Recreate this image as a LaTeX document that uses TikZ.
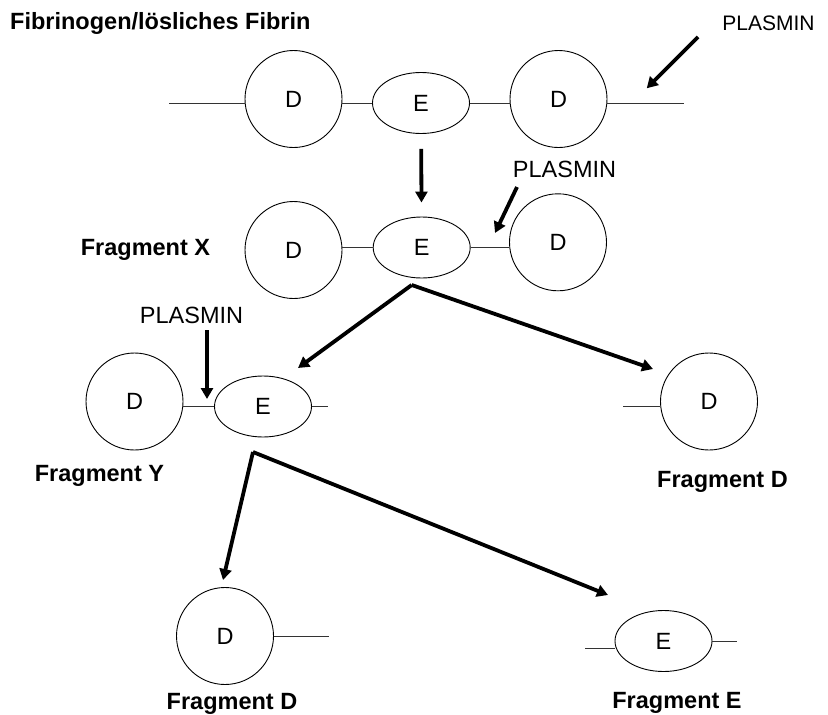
\documentclass[tikz,border=0pt]{standalone}
\usepackage{fontspec}
\setmainfont{Liberation Sans}
\usetikzlibrary{shapes.geometric,arrows.meta}

\begin{document}
\begin{tikzpicture}[
    x=1pt, y=-1pt,
    dom/.style={circle, draw, line width=0.9pt, minimum size=97pt, inner sep=0pt, font=\fontsize{23.5}{28}\selectfont},
    edom/.style={ellipse, draw, line width=0.9pt, minimum width=97pt, minimum height=61pt, inner sep=0pt, font=\fontsize{23.5}{28}\selectfont},
    bond/.style={line width=0.9pt, black!80},
    react/.style={line width=3.8pt, -{Triangle[length=11pt,width=12pt]}},
    frag/.style={anchor=base, inner sep=0pt, font=\bfseries\fontsize{23.5}{28}\selectfont},
    enzyme/.style={anchor=base, inner sep=0pt, font=\fontsize{23.5}{28}\selectfont}
  ]
    \useasboundingbox (0,0) rectangle (828,715);

    % Row 1: Fibrinogen
    \node[frag, anchor=base west] (title) at (10,29.5) {Fibrinogen/lösliches Fibrin};
    \node[enzyme, font=\fontsize{21}{25}\selectfont] (plasA) at (768.5,30) {PLASMIN};

    \node[dom] (dTopL) at (293.5,99) {D};
    \node[edom] (eTop) at (421,103) {E};
    \node[dom] (dTopR) at (558.5,99) {D};
    \coordinate (tailL) at (169,103);
    \coordinate (tailR) at (684,103);

    \draw[bond] (tailL) -- (tailL -| dTopL.west);
    \draw[bond] (dTopL.east |- eTop.west) -- (eTop.west);
    \draw[bond] (eTop.east) -- (eTop.east -| dTopR.west);
    \draw[bond] (dTopR.east |- tailR) -- (tailR);

    \coordinate (cutA1) at (698,37);
    \coordinate (cutA2) at (646.7,88.3);
    \draw[react] (cutA1) -- (cutA2);

    % Row 2: Fragment X
    \node[frag] (fragX) at (145.5,255) {Fragment X};
    \node[dom] (dXL) at (293.5,250) {D};
    \node[edom] (eX) at (421.7,247.5) {E};
    \node[dom] (dXR) at (558,242.3) {D};

    \draw[bond] (dXL.east |- eX.west) -- (eX.west);
    \draw[bond] (eX.east) -- (eX.east -| dXR.west);

    \draw[react, shorten <=15pt, shorten >=14pt] (eTop) -- (eX);

    \node[enzyme] (plasB) at (564.5,177) {PLASMIN};
    \coordinate (cutB1) at (517,187);
    \coordinate (cutB2) at (495,233);
    \draw[react] (cutB1) -- (cutB2);

    % Row 3: Fragment Y, Fragment D
    \node[frag] (fragY) at (99.5,481) {Fragment Y};
    \node[dom] (dY) at (134.5,401.5) {D};
    \node[edom] (eY) at (263,406.5) {E};
    \coordinate (tailY) at (328,406.5);

    \draw[bond] (dY.east |- eY.west) -- (eY.west);
    \draw[bond] (eY.east) -- (tailY);

    \node[enzyme] (plasC) at (191.5,323) {PLASMIN};
    \coordinate (cutC1) at (207,330);
    \coordinate (cutC2) at (207,399);
    \draw[react] (cutC1) -- (cutC2);

    \node[frag] (fragD1) at (722.5,487) {Fragment D};
    \node[dom] (dD1) at (709,401.5) {D};
    \coordinate (tailD1) at (623,406.7);
    \draw[bond] (tailD1) -- (tailD1 -| dD1.west);

    % X splits
    \coordinate (splitX) at (411.7,285);
    \coordinate (toY) at (298,368);
    \coordinate (toD1) at (653,369);
    \draw[react] (splitX) -- (toY);
    \draw[react] (splitX) -- (toD1);

    % Row 4: Fragment D, Fragment E
    \node[frag] (fragD2) at (232,709) {Fragment D};
    \node[dom] (dD2) at (225,636) {D};
    \coordinate (tailD2) at (329,636);
    \draw[bond] (dD2.east) -- (tailD2);

    \node[frag] (fragE) at (677,708) {Fragment E};
    \node[edom] (eE) at (663.5,641) {E};
    \coordinate (tailEL) at (585,648);
    \coordinate (tailER) at (737,641);
    \draw[bond] (tailEL) -- (tailEL -| eE.west);
    \draw[bond] (eE.east) -- (tailER);

    % Y splits
    \coordinate (splitY) at (253,452);
    \coordinate (toD2) at (223,580);
    \coordinate (toE) at (608,595);
    \draw[react] (splitY) -- (toD2);
    \draw[react] (splitY) -- (toE);
  \end{tikzpicture}
\end{document}
